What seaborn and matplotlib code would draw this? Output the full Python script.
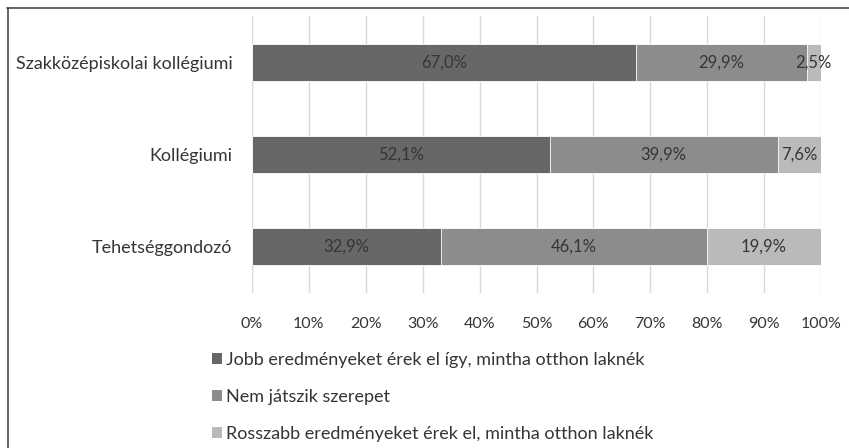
import matplotlib
matplotlib.use("Agg")
import matplotlib.pyplot as plt
from matplotlib.lines import Line2D
from matplotlib.patches import Patch
import numpy as np
import pandas as pd
import seaborn as sns

categories = ["Szakközépiskolai kollégiumi", "Kollégiumi", "Tehetséggondozó"]
series = [
    "Jobb eredményeket érek el így, mintha otthon laknék",
    "Nem játszik szerepet",
    "Rosszabb eredményeket érek el, mintha otthon laknék",
]
jobb = [67.0, 52.1, 32.9]
nem = [29.9, 39.9, 46.1]
rosszabb = [2.5, 7.6, 19.9]
xticks = [0, 10, 20, 30, 40, 50, 60, 70, 80, 90, 100]
colors = ["#676767", "#8c8c8e", "#b9b9bd"]

sns.set_theme(style="white")
plt.rcParams["font.family"] = ["Lato", "DejaVu Sans"]
text_color = "#353535"

vals = np.array([jobb, nem, rosszabb])
shares = vals / vals.sum(axis=0) * 100  # 100% stacked like the original
cum = shares.cumsum(axis=0)

fig = plt.figure(figsize=(8.49, 4.48), dpi=100)
ax = fig.add_axes([252 / 849, 1 - 293 / 448, 569 / 849, 277 / 448])

# draw cumulative bars from the back to the front
for i in reversed(range(len(series))):
    df = pd.DataFrame({"cat": categories, "val": cum[i]})
    sns.barplot(data=df, x="val", y="cat", orient="h", color=colors[i],
                width=0.4, edgecolor="white", linewidth=0.6, ax=ax, zorder=3)

for i in range(len(series)):
    for j in range(len(categories)):
        left = cum[i][j] - shares[i][j]
        ax.text(left + shares[i][j] / 2, j, f"{vals[i][j]:.1f}%".replace(".", ","),
                ha="center", va="center", fontsize=12, color=text_color, zorder=4)

ax.set_xlim(0, 100)
ax.set_xticks(xticks)
ax.set_xticklabels([f"{t}%" for t in xticks])
ax.set_xlabel("")
ax.set_ylabel("")
ax.grid(axis="x", color="#d9d9d9", linewidth=1, zorder=0)
ax.set_axisbelow(True)
for s in ax.spines.values():
    s.set_visible(False)
ax.tick_params(axis="x", length=0, pad=17, labelsize=11.5, labelcolor=text_color)
ax.tick_params(axis="y", length=0, pad=14, labelsize=13, labelcolor=text_color)

handles = [Patch(facecolor=c, edgecolor="none") for c in colors]
fig.legend(handles, series, loc="upper left", bbox_to_anchor=(212 / 849, 1 - 352 / 448),
           frameon=False, fontsize=13, handlelength=0.55, handleheight=0.55,
           handletextpad=0.2, labelspacing=1.15, borderaxespad=0, borderpad=0,
           labelcolor=text_color)

fig.add_artist(Line2D([7.5 / 849, 7.5 / 849], [0, 1 - 8 / 448], transform=fig.transFigure,
                      color="#3a3a3a", linewidth=1.1))
fig.add_artist(Line2D([7 / 849, 1], [1 - 8.5 / 448, 1 - 8.5 / 448], transform=fig.transFigure,
                      color="#3a3a3a", linewidth=1.1))

fig.savefig("out.png", dpi=100)
